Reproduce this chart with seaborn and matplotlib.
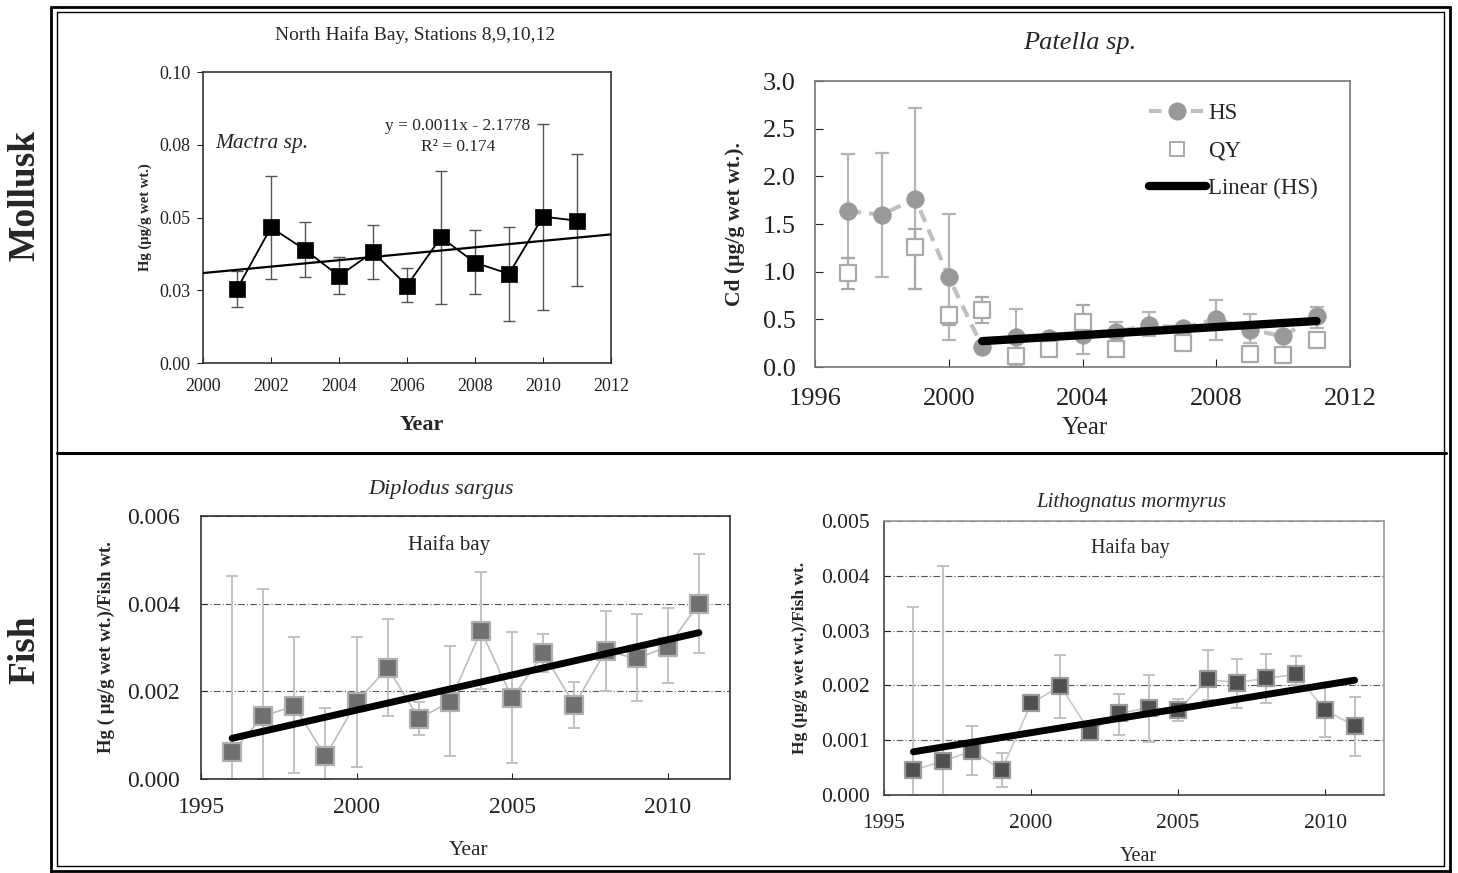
import numpy as np
import matplotlib
matplotlib.use("Agg")
import matplotlib.pyplot as plt
from matplotlib.lines import Line2D
import seaborn as sns

# ---------------- data ----------------
# Mactra sp. (North Haifa Bay)
mactra_years = [2001, 2002, 2003, 2004, 2005, 2006, 2007, 2008, 2009, 2010, 2011]
mactra_hg = [0.0254, 0.0466, 0.0389, 0.0299, 0.0381, 0.0266, 0.0432, 0.0345, 0.0306, 0.0503, 0.0489]
mactra_hi = [0.0316, 0.0642, 0.0486, 0.0363, 0.0473, 0.0326, 0.0660, 0.0457, 0.0466, 0.0820, 0.0717]
mactra_lo = [0.0192, 0.0288, 0.0294, 0.0238, 0.0288, 0.0211, 0.0202, 0.0237, 0.0146, 0.0183, 0.0265]
mactra_yticks = [0.0, 0.025, 0.05, 0.075, 0.10]
mactra_yticklabels = ["0.00", "0.03", "0.05", "0.08", "0.10"]
mactra_xticks = [2000, 2002, 2004, 2006, 2008, 2010, 2012]

# Patella sp. Cd
hs_years = [1997, 1998, 1999, 2000, 2001, 2002, 2003, 2004, 2005, 2006, 2007, 2008, 2009, 2010, 2011]
hs_cd = [1.634, 1.599, 1.766, 0.942, 0.212, 0.313, 0.300, 0.340, 0.368, 0.445, 0.410, 0.504, 0.393, 0.323, 0.539]
hs_hi = [2.235, 2.245, 2.720, 1.600, 0.250, 0.608, 0.330, 0.450, 0.470, 0.577, 0.440, 0.706, 0.556, 0.360, 0.629]
hs_lo = [1.147, 0.949, 0.817, 0.288, 0.180, 0.010, 0.270, 0.139, 0.300, 0.330, 0.380, 0.288, 0.254, 0.290, 0.410]
qy_years = [1997, 1999, 2000, 2001, 2002, 2003, 2004, 2005, 2007, 2009, 2010, 2011]
qy_cd = [0.990, 1.262, 0.549, 0.594, 0.115, 0.191, 0.469, 0.184, 0.254, 0.139, 0.125, 0.282]
qy_hi = [1.147, 1.450, 0.630, 0.730, 0.150, 0.220, 0.653, 0.220, 0.290, 0.170, 0.160, 0.320]
qy_lo = [0.817, 0.817, 0.445, 0.462, 0.080, 0.160, 0.280, 0.150, 0.220, 0.110, 0.090, 0.250]
trend_start_year = 2001
patella_yticks = [0.0, 0.5, 1.0, 1.5, 2.0, 2.5, 3.0]
patella_xticks = [1996, 2000, 2004, 2008, 2012]

# Diplodus sargus
fish_years = [1996, 1997, 1998, 1999, 2000, 2001, 2002, 2003, 2004, 2005, 2006, 2007, 2008, 2009, 2010, 2011]
dip_hg = [0.000608, 0.00144, 0.00166, 0.000516, 0.00176, 0.00254, 0.00138, 0.00176,
          0.00338, 0.00184, 0.00287, 0.00169, 0.00292, 0.00275, 0.00302, 0.00400]
dip_hi = [0.00463, 0.00433, 0.00324, 0.00161, 0.00324, 0.00365, 0.00176, 0.00304,
          0.00472, 0.00336, 0.00330, 0.00222, 0.00383, 0.00377, 0.00391, 0.00514]
dip_lo = [0.0, 0.0, 0.00013, 0.0, 0.00027, 0.00143, 0.00101, 0.00052,
          0.00205, 0.00036, 0.00243, 0.00117, 0.00200, 0.00177, 0.00219, 0.00288]
dip_yticks = [0.0, 0.002, 0.004, 0.006]
dip_yticklabels = ["0.000", "0.002", "0.004", "0.006"]

# Lithognatus mormyrus
lit_hg = [0.00045, 0.00062, 0.00080, 0.00046, 0.00167, 0.00199, 0.00115, 0.00149,
          0.00159, 0.00155, 0.00211, 0.00205, 0.00213, 0.00220, 0.00155, 0.00126]
lit_hi = [0.00343, 0.00417, 0.00126, 0.00077, 0.00170, 0.00256, 0.00125, 0.00185,
          0.00219, 0.00176, 0.00264, 0.00248, 0.00258, 0.00254, 0.00197, 0.00178]
lit_lo = [0.0, 0.0, 0.00036, 0.00015, 0.00165, 0.00141, 0.00100, 0.00110,
          0.00097, 0.00135, 0.00173, 0.00158, 0.00168, 0.00200, 0.00105, 0.00072]
lit_yticks = [0.0, 0.001, 0.002, 0.003, 0.004, 0.005]
lit_yticklabels = ["0.000", "0.001", "0.002", "0.003", "0.004", "0.005"]
fish_xticks = [1995, 2000, 2005, 2010]

# ---------------- style ----------------
sns.set_style("ticks")
plt.rcParams["font.family"] = ["Liberation Serif", "DejaVu Serif"]
plt.rcParams["mathtext.fontset"] = "stix"

fig = plt.figure(figsize=(14.58, 8.73), dpi=100)
W, H = 1458.0, 873.0


def box(l, t, r, b):
    return [l / W, 1 - b / H, (r - l) / W, (b - t) / H]


def err(y, lo, hi):
    y = np.asarray(y); lo = np.asarray(lo); hi = np.asarray(hi)
    return np.vstack([y - lo, hi - y])


def style_spines(ax, color):
    for s in ax.spines.values():
        s.set_visible(True)
        s.set_color(color)
        s.set_linewidth(1.2)


# ---------------- Mactra ----------------
ax1 = fig.add_axes(box(203, 72, 611, 363))
ax1.set_xlim(2000, 2012)
ax1.set_ylim(0, 0.10)
ax1.errorbar(mactra_years, mactra_hg, yerr=err(mactra_hg, mactra_lo, mactra_hi), fmt="none",
             ecolor="#555555", elinewidth=1.0, capsize=4, capthick=1.0, zorder=2)
sns.regplot(x=mactra_years, y=mactra_hg, ax=ax1, scatter=False, ci=None, truncate=False,
            line_kws=dict(color="black", lw=1.6, zorder=3))
sns.lineplot(x=mactra_years, y=mactra_hg, ax=ax1, color="black", lw=1.3, zorder=4)
sns.scatterplot(x=mactra_years, y=mactra_hg, ax=ax1, marker="s", s=120, color="black",
                edgecolor="black", linewidth=0.5, zorder=5)
ax1.set_xlim(2000, 2012)
ax1.set_ylim(0, 0.10)
ax1.set_xticks(mactra_xticks)
ax1.set_yticks(mactra_yticks)
ax1.set_yticklabels(mactra_yticklabels)
ax1.tick_params(axis="both", labelsize=13, colors="#222222", length=4)
ax1.tick_params(axis="x", direction="in", pad=11)
ax1.tick_params(axis="y", pad=5)
style_spines(ax1, "#333333")
ax1.set_xlabel("")
ax1.set_ylabel("")
ax1.text(0.52, 1.127, "North Haifa Bay, Stations 8,9,10,12", transform=ax1.transAxes,
         ha="center", va="center", fontsize=14)
ax1.text(0.535, -0.213, "Year", transform=ax1.transAxes, ha="center", va="center",
         fontsize=16, fontweight="bold")
ax1.text(-0.142, 0.5, "Hg (µg/g wet wt.)", transform=ax1.transAxes, ha="center", va="center",
         rotation=90, fontsize=10.5, fontweight="bold")
ax1.text(0.03, 0.756, "Mactra sp.", transform=ax1.transAxes, ha="left", va="center",
         fontsize=15.5, style="italic")
ax1.text(0.625, 0.814, "y = 0.0011x - 2.1778", transform=ax1.transAxes, ha="center",
         va="center", fontsize=12.5)
ax1.text(0.625, 0.742, "R² = 0.174", transform=ax1.transAxes, ha="center",
         va="center", fontsize=12.5)

# ---------------- Patella ----------------
ax2 = fig.add_axes(box(815, 81, 1350, 367))
ax2.set_xlim(1996, 2012)
ax2.set_ylim(0, 3.0)
ax2.errorbar(hs_years, hs_cd, yerr=err(hs_cd, hs_lo, hs_hi), fmt="none",
             ecolor="#b5b5b5", elinewidth=1.6, capsize=5, capthick=1.6, zorder=2)
ax2.errorbar(qy_years, qy_cd, yerr=err(qy_cd, qy_lo, qy_hi), fmt="none",
             ecolor="#a8a8a8", elinewidth=1.6, capsize=5, capthick=1.6, zorder=2)
sns.lineplot(x=hs_years, y=hs_cd, ax=ax2, color="#c0c0c0", lw=3.0, linestyle=(0, (3, 2)),
             zorder=3)
sns.scatterplot(x=hs_years, y=hs_cd, ax=ax2, marker="o", s=160, color="#999999",
                edgecolor="#999999", linewidth=0.5, zorder=4)
sns.scatterplot(x=qy_years, y=qy_cd, ax=ax2, marker="s", s=130, color="white",
                edgecolor="#aaaaaa", linewidth=1.6, zorder=4)
trend_x = [x for x in hs_years if x >= trend_start_year]
trend_y = [y for x, y in zip(hs_years, hs_cd) if x >= trend_start_year]
sns.regplot(x=trend_x, y=trend_y, ax=ax2, scatter=False, ci=None, truncate=True,
            line_kws=dict(color="black", lw=6, solid_capstyle="round", zorder=6))
ax2.set_xlim(1996, 2012)
ax2.set_ylim(0, 3.0)
ax2.set_xticks(patella_xticks)
ax2.set_yticks(patella_yticks)
ax2.set_yticklabels([f"{v:.1f}" for v in patella_yticks])
ax2.tick_params(axis="both", labelsize=19, colors="#222222", direction="in", length=6)
ax2.tick_params(axis="x", pad=15)
ax2.tick_params(axis="y", pad=14)
style_spines(ax2, "#777777")
ax2.set_xlabel("")
ax2.set_ylabel("")
ax2.text(0.495, 1.132, "Patella sp.", transform=ax2.transAxes, ha="center", va="center",
         fontsize=19, style="italic")
ax2.text(0.505, -0.213, "Year", transform=ax2.transAxes, ha="center", va="center",
         fontsize=18)
ax2.text(-0.15, 0.5, "Cd (µg/g wet wt.).", transform=ax2.transAxes, ha="center", va="center",
         rotation=90, fontsize=15.5, fontweight="bold")
handles = [
    Line2D([], [], color="#c0c0c0", lw=3, linestyle=(0, (3, 2)), marker="o", markersize=12,
           markerfacecolor="#999999", markeredgecolor="#999999"),
    Line2D([], [], color="none", marker="s", markersize=10, markerfacecolor="white",
           markeredgecolor="#aaaaaa", markeredgewidth=1.4),
    Line2D([], [], color="black", lw=6, solid_capstyle="round"),
]
ax2.legend(handles, ["HS", "QY", "Linear (HS)"], loc="upper left",
           bbox_to_anchor=(0.585, 0.995), frameon=False, fontsize=16.5, handlelength=2.5,
           handletextpad=0.1, labelspacing=0.72)

# ---------------- Diplodus ----------------
ax3 = fig.add_axes(box(201, 516, 730, 779))
ax3.set_xlim(1995, 2012)
ax3.set_ylim(0, 0.006)
ax3.errorbar(fish_years, dip_hg, yerr=err(dip_hg, dip_lo, dip_hi), fmt="none",
             ecolor="#c2c2c2", elinewidth=1.4, capsize=4, capthick=1.4, zorder=2)
sns.lineplot(x=fish_years, y=dip_hg, ax=ax3, color="#bdbdbd", lw=1.2, zorder=3)
sns.scatterplot(x=fish_years, y=dip_hg, ax=ax3, marker="s", s=160, color="#707070",
                edgecolor="#b0b0b0", linewidth=1.6, zorder=4)
sns.regplot(x=fish_years, y=dip_hg, ax=ax3, scatter=False, ci=None, truncate=True,
            line_kws=dict(color="black", lw=5, solid_capstyle="round", zorder=6))
ax3.set_xlim(1995, 2012)
ax3.set_ylim(0, 0.006)
ax3.set_xticks(fish_xticks)
ax3.set_yticks(dip_yticks)
ax3.set_yticklabels(dip_yticklabels)
ax3.yaxis.grid(True, linestyle=(0, (6, 2, 1, 2)), color="#555555", lw=0.8)
ax3.tick_params(axis="both", labelsize=17, colors="#222222", direction="in", length=4)
ax3.tick_params(axis="x", pad=13)
ax3.tick_params(axis="y", pad=15)
style_spines(ax3, "#333333")
ax3.set_xlabel("")
ax3.set_ylabel("")
ax3.text(0.454, 1.099, "Diplodus sargus", transform=ax3.transAxes, ha="center", va="center",
         fontsize=16, style="italic")
ax3.text(0.469, 0.89, "Haifa bay", transform=ax3.transAxes, ha="center", va="center",
         fontsize=15)
ax3.text(0.505, -0.27, "Year", transform=ax3.transAxes, ha="center", va="center",
         fontsize=15.5)
ax3.text(-0.178, 0.5, "Hg ( µg/g wet wt.)/Fish wt.", transform=ax3.transAxes, ha="center",
         va="center", rotation=90, fontsize=13.5, fontweight="bold")

# ---------------- Lithognatus ----------------
ax4 = fig.add_axes(box(884, 521, 1384, 795))
ax4.set_xlim(1995, 2012)
ax4.set_ylim(0, 0.005)
ax4.errorbar(fish_years, lit_hg, yerr=err(lit_hg, lit_lo, lit_hi), fmt="none",
             ecolor="#c2c2c2", elinewidth=1.4, capsize=4, capthick=1.4, zorder=2)
sns.lineplot(x=fish_years, y=lit_hg, ax=ax4, color="#c8c8c8", lw=1.2, zorder=3)
sns.scatterplot(x=fish_years, y=lit_hg, ax=ax4, marker="s", s=140, color="#505050",
                edgecolor="#9a9a9a", linewidth=1.6, zorder=4)
sns.regplot(x=fish_years, y=lit_hg, ax=ax4, scatter=False, ci=None, truncate=True,
            line_kws=dict(color="black", lw=5, solid_capstyle="round", zorder=6))
ax4.set_xlim(1995, 2012)
ax4.set_ylim(0, 0.005)
ax4.set_xticks(fish_xticks)
ax4.set_yticks(lit_yticks)
ax4.set_yticklabels(lit_yticklabels)
ax4.yaxis.grid(True, linestyle=(0, (6, 2, 1, 2)), color="#555555", lw=0.8)
ax4.tick_params(axis="both", labelsize=15.5, colors="#222222", direction="in", length=4)
ax4.tick_params(axis="x", pad=14)
ax4.tick_params(axis="y", pad=10)
style_spines(ax4, "#444444")
ax4.spines["right"].set_color("#999999")
ax4.spines["top"].set_color("#999999")
ax4.set_xlabel("")
ax4.set_ylabel("")
ax4.text(0.494, 1.066, "Lithognatus mormyrus", transform=ax4.transAxes, ha="center",
         va="center", fontsize=15, style="italic")
ax4.text(0.492, 0.901, "Haifa bay", transform=ax4.transAxes, ha="center", va="center",
         fontsize=14.5)
ax4.text(0.508, -0.226, "Year", transform=ax4.transAxes, ha="center", va="center",
         fontsize=14.5)
ax4.text(-0.168, 0.5, "Hg (µg/g wet wt.)/Fish wt.", transform=ax4.transAxes, ha="center",
         va="center", rotation=90, fontsize=12.5, fontweight="bold")

# ---------------- frame & group labels ----------------
def fline(x0, y0, x1, y1, lw):
    fig.add_artist(Line2D([x0 / W, x1 / W], [1 - y0 / H, 1 - y1 / H], color="black", lw=lw,
                          transform=fig.transFigure))

# outer (double) border
fline(51, 7, 1450, 7, 2.0)
fline(51, 7, 51, 873, 2.0)
fline(1450, 7, 1450, 873, 2.0)
fline(51, 871, 1450, 871, 2.0)
fline(57, 12, 1444, 12, 1.0)
fline(57, 12, 57, 866, 1.0)
fline(1444, 12, 1444, 866, 1.0)
fline(57, 866, 1444, 866, 1.0)
# divider
fline(57, 453, 1446, 453, 2.2)

fig.text(25 / W, 1 - 195 / H, "Mollusk", rotation=90, ha="center", va="center",
         fontsize=27, fontweight="bold")
fig.text(25 / W, 1 - 650 / H, "Fish", rotation=90, ha="center", va="center",
         fontsize=27, fontweight="bold")

fig.savefig("out.png", dpi=100, facecolor="white")
